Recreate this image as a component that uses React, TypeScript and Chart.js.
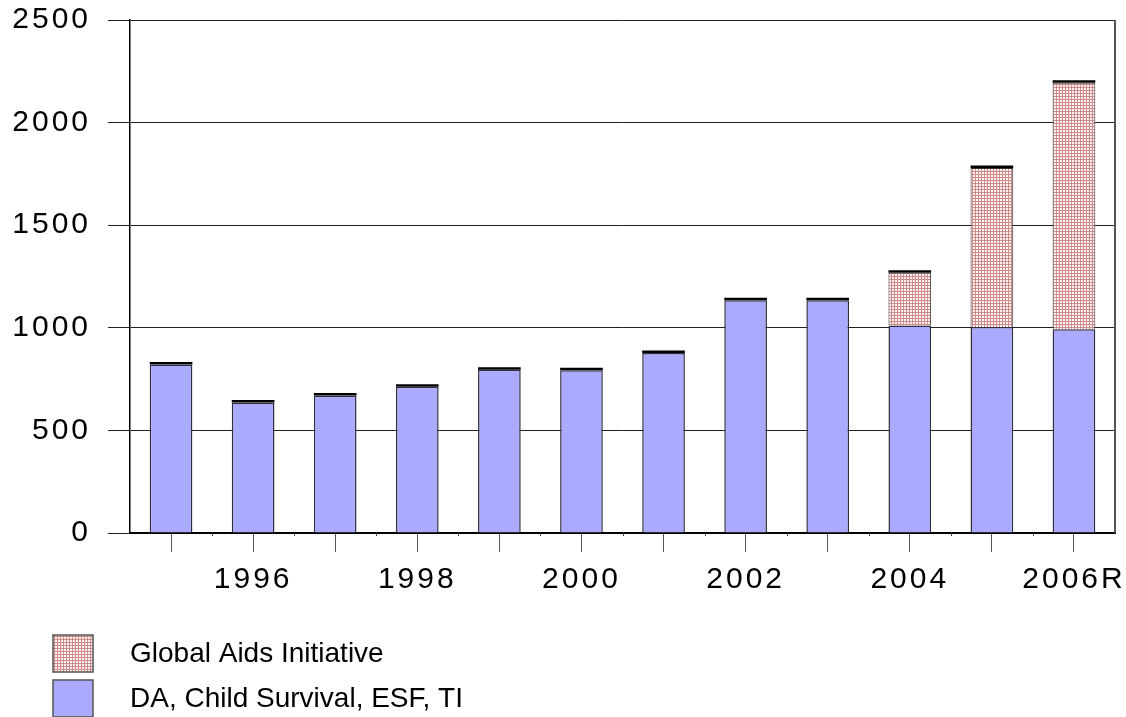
import React, { useEffect, useRef } from "react";
import { Chart, registerables } from "chart.js";

Chart.register(...registerables);

const categories = ["1995", "1996", "1997", "1998", "1999", "2000", "2001", "2002", "2003", "2004", "2005", "2006R"];
const baseProgram = [821, 636, 670, 713, 796, 793, 877, 1134, 1134, 1011, 1004, 993];
const globalAids = [0, 0, 0, 0, 0, 0, 0, 0, 0, 257, 775, 1201];
const otherTop = [12, 12, 12, 12, 12, 12, 12, 12, 12, 12, 12, 12];
const yTicks = [0, 500, 1000, 1500, 2000, 2500];
const seriesLabels = ["DA, Child Survival, ESF, TI", "Global Aids Initiative"];

const FONT = "'Liberation Sans', Arial, sans-serif";

function makeHatch(): CanvasPattern | string {
  const c = document.createElement("canvas");
  c.width = 3;
  c.height = 3;
  const g = c.getContext("2d");
  if (!g) return "#e8b0b0";
  g.fillStyle = "#fbf2f2";
  g.fillRect(0, 0, 3, 3);
  g.fillStyle = "#d08a8a";
  g.fillRect(0, 0, 3, 1);
  g.fillRect(0, 0, 1, 3);
  const p = g.createPattern(c, "repeat");
  return p || "#e8b0b0";
}

export default function App() {
  const ref = useRef<HTMLCanvasElement | null>(null);

  useEffect(() => {
    document.body.style.margin = "0";
    const canvas = ref.current;
    if (!canvas) return;
    const hatch = makeHatch();

    const decor = {
      id: "decor",
      beforeDraw(chart: any) {
        (chart.ctx as any).letterSpacing = "3px";
      },
      afterDraw(chart: any) {
        const { ctx, chartArea, scales } = chart;
        const xs = scales.x;
        ctx.save();
        ctx.strokeStyle = "#555";
        ctx.lineWidth = 2;
        ctx.beginPath();
        ctx.moveTo(chartArea.right, chartArea.top);
        ctx.lineTo(chartArea.right, chartArea.bottom);
        ctx.stroke();
        ctx.strokeStyle = "#444";
        ctx.lineWidth = 1;
        const n = categories.length;
        const half = (xs.getPixelForValue(1) - xs.getPixelForValue(0)) / 2;
        for (let i = 1; i < n; i++) {
          const px = Math.round(xs.getPixelForValue(i) - half) + 0.5;
          ctx.beginPath();
          ctx.moveTo(px, chartArea.bottom);
          ctx.lineTo(px, chartArea.bottom + 3);
          ctx.stroke();
        }
        const items = [1, 0];
        ctx.font = `28px ${FONT}`;
        (ctx as any).letterSpacing = "0px";
        ctx.textBaseline = "middle";
        ctx.textAlign = "left";
        items.forEach((di, k) => {
          const ds = chart.data.datasets[di];
          const top = 635 + k * 45;
          ctx.fillStyle = ds.backgroundColor;
          ctx.fillRect(53, top, 40, 37);
          ctx.strokeStyle = "#555";
          ctx.lineWidth = 1.5;
          ctx.strokeRect(53, top, 40, 37);
          ctx.fillStyle = "#000";
          ctx.fillText(ds.label, 130, top + 19);
        });
        ctx.restore();
      },
    };

    const chart = new Chart(canvas, {
      type: "bar",
      data: {
        labels: categories,
        datasets: [
          {
            label: seriesLabels[0],
            data: baseProgram,
            backgroundColor: "#aaaaff",
            borderColor: "#2e2e40",
            borderWidth: 1.5,
            barPercentage: 0.52,
            categoryPercentage: 1,
          },
          {
            label: seriesLabels[1],
            data: globalAids,
            backgroundColor: hatch as any,
            borderColor: "#333",
            borderWidth: 1,
            barPercentage: 0.52,
            categoryPercentage: 1,
          },
          {
            label: "other",
            data: otherTop,
            backgroundColor: "#000",
            borderWidth: 0,
            barPercentage: 0.52,
            categoryPercentage: 1,
          },
        ],
      },
      options: {
        animation: false,
        responsive: true,
        maintainAspectRatio: false,
        layout: { padding: { left: 0, right: 11, top: 20, bottom: 104 } },
        plugins: {
          legend: { display: false },
          tooltip: { enabled: false },
        },
        scales: {
          x: {
            stacked: true,
            grid: {
              offset: false,
              drawOnChartArea: false,
              tickLength: 19,
              color: "#555",
              lineWidth: 1,
            },
            border: { color: "#000", width: 2 },
            ticks: {
              autoSkip: false,
              maxRotation: 0,
              minRotation: 0,
              padding: 10,
              color: "#000",
              font: { family: FONT, size: 30 },
              callback: (_v: any, i: number) => (i % 2 === 1 ? categories[i] : ""),
            },
            afterFit: (s: any) => {
              s.height = 80;
              s.paddingLeft = 0;
              s.paddingRight = 0;
            },
          },
          y: {
            stacked: true,
            min: yTicks[0],
            max: yTicks[yTicks.length - 1],
            afterBuildTicks: (s: any) => {
              s.ticks = yTicks.map((v) => ({ value: v }));
            },
            grid: {
              color: "#222",
              lineWidth: 1,
              tickLength: 22,
            },
            border: { color: "#000", width: 1.5 },
            ticks: {
              padding: 17,
              color: "#000",
              font: { family: FONT, size: 30 },
              callback: (v: any) => String(v),
            },
            afterFit: (s: any) => {
              s.width = 130;
              s.paddingTop = 0;
              s.paddingBottom = 0;
            },
          },
        },
      },
      plugins: [decor],
    });

    return () => chart.destroy();
  }, []);

  return (
    <div style={{ width: 1126, height: 717, position: "relative" }}>
      <canvas ref={ref} />
    </div>
  );
}
